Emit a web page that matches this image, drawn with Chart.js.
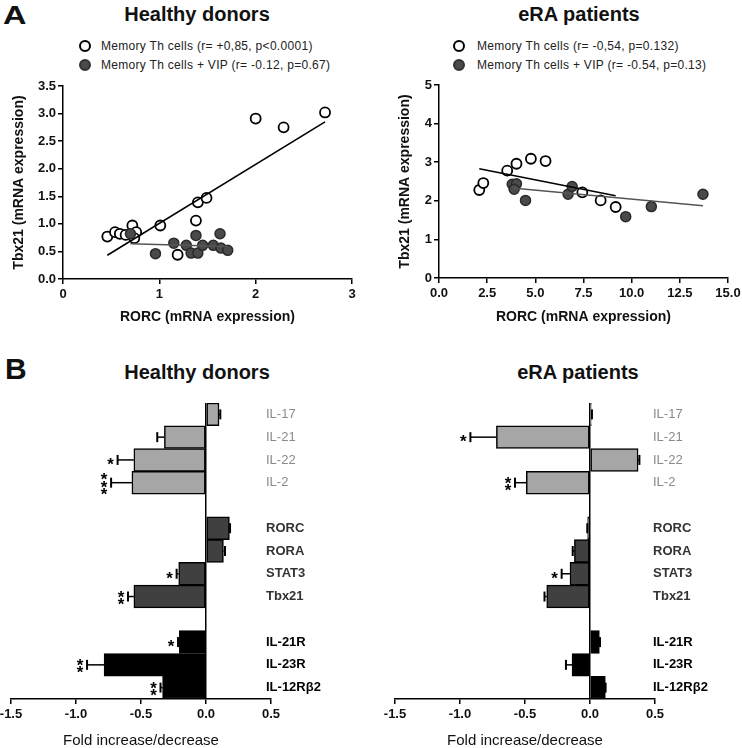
<!DOCTYPE html>
<html>
<head>
<meta charset="utf-8">
<script src="https://cdn.jsdelivr.net/npm/chart.js@4.4.1/dist/chart.umd.min.js"></script>
<style>
  html, body { margin:0; padding:0; background:#fff; }
  body { width:742px; height:748px; position:relative; overflow:hidden; font-family:"Liberation Sans", Arial, sans-serif; color:#111; }
  canvas { position:absolute; }
  .t { position:absolute; font-weight:bold; white-space:nowrap; }
  .ptitle { font-size:20px; line-height:20px; text-align:center; width:300px; }
  .leg { position:absolute; font-size:12px; line-height:14px; letter-spacing:0.3px; white-space:nowrap; color:#222; }
  .dot { position:absolute; width:8px; height:8px; border-radius:50%; }
</style>
</head>
<body>
<div class="t" style="left:3px;top:2px;font-size:26px;line-height:26px;transform:scaleX(1.25);transform-origin:left;">A</div>
<div class="t" style="left:5px;top:354px;font-size:30px;line-height:30px;">B</div>
<div class="t ptitle" style="left:47px;top:4px;">Healthy donors</div>
<div class="t ptitle" style="left:429px;top:4px;">eRA patients</div>
<div class="t ptitle" style="left:47px;top:362px;">Healthy donors</div>
<div class="t ptitle" style="left:428px;top:362px;">eRA patients</div>

<div class="dot" style="left:79px;top:40px;border:2px solid #000;background:#fff;"></div>
<div class="leg" style="left:101px;top:39px;">Memory Th cells (r= +0,85, p&lt;0.0001)</div>
<div class="dot" style="left:79px;top:59px;border:2px solid #333;background:#4a4a4a;"></div>
<div class="leg" style="left:101px;top:58px;">Memory Th cells + VIP (r= -0.12, p=0.67)</div>

<div class="dot" style="left:453px;top:40px;border:2px solid #000;background:#fff;"></div>
<div class="leg" style="left:477px;top:39px;">Memory Th cells (r= -0,54, p=0.132)</div>
<div class="dot" style="left:453px;top:59px;border:2px solid #333;background:#4a4a4a;"></div>
<div class="leg" style="left:477px;top:58px;">Memory Th cells + VIP (r= -0.54, p=0.13)</div>

<canvas id="aL" width="371" height="256" style="left:0;top:70px;"></canvas>
<canvas id="aR" width="371" height="256" style="left:371px;top:70px;"></canvas>
<canvas id="bL" width="371" height="360" style="left:0;top:390px;"></canvas>
<canvas id="bR" width="371" height="360" style="left:371px;top:390px;"></canvas>

<script>
// ---------- Panel A data (RORC vs Tbx21 mRNA expression) ----------
const hdMemRorc   = [0.46,0.54,0.59,0.65,0.72,0.76,0.74,1.01,1.40,1.49,1.38,1.19,2.00,2.29,2.72];
const hdMemTbx21  = [0.77,0.85,0.82,0.80,0.97,0.85,0.74,0.97,1.39,1.47,1.06,0.44,2.91,2.75,3.02];
const hdVipRorc   = [0.70,0.96,1.15,1.28,1.33,1.38,1.40,1.45,1.56,1.63,1.64,1.71];
const hdVipTbx21  = [0.82,0.46,0.65,0.61,0.47,0.79,0.47,0.61,0.61,0.82,0.56,0.52];
const eraMemRorc  = [2.09,2.30,3.54,4.02,4.77,5.53,7.44,8.39,9.17];
const eraMemTbx21 = [2.28,2.46,2.78,2.96,3.09,3.03,2.22,2.01,1.84];
const eraVipRorc  = [3.80,4.02,3.90,4.49,6.70,6.91,9.69,11.02,13.70];
const eraVipTbx21 = [2.43,2.44,2.30,2.01,2.17,2.37,1.59,1.85,2.17];
// regression lines: [slope, intercept]
const hdMemFit  = [1.07, -0.062];
const hdVipFit  = [-0.05, 0.675];
const eraMemFit = [-0.0985, 3.036];
const eraVipFit = [-0.0465, 2.507];

// ---------- Panel B data (fold increase/decrease) ----------
const genes     = ['IL-17','IL-21','IL-22','IL-2','RORC','RORA','STAT3','Tbx21','IL-21R','IL-23R','IL-12Rβ2'];
const geneGroup = [0,0,0,0,1,1,1,1,2,2,2];
const hdFold    = [0.10,-0.32,-0.555,-0.57,0.18,0.134,-0.21,-0.555,-0.205,-0.784,-0.334];
const hdErr     = [0.01,0.055,0.125,0.16,0.005,0.012,0.016,0.045,0.01,0.131,0.016];
const hdSig     = ['','','*','***','','','*','**','*','**','**'];
const eraFold   = [0.01,-0.72,0.37,-0.49,-0.018,-0.12,-0.154,-0.333,0.072,-0.138,0.118];
const eraErr    = [0.005,0.20,0.01,0.087,0.003,0.013,0.064,0.017,0.005,0.047,0.002];
const eraSig    = ['','*','','**','','','*','','','',''];
const groupFill  = ['#a6a6a6','#404040','#000000'];
const groupLabel = ['#8a8a8a','#333333','#000000'];
const groupWeight = ['normal','bold','bold'];

const FONT = '"Liberation Sans", Arial, sans-serif';
Chart.defaults.font.family = FONT;
Chart.defaults.color = '#111';

function pts(xs, ys) { return xs.map((x, i) => ({x: x, y: ys[i]})); }
function fitPts(xs, fit) {
  const lo = Math.min(...xs), hi = Math.max(...xs);
  return [{x: lo, y: fit[0]*lo + fit[1]}, {x: hi, y: fit[0]*hi + fit[1]}];
}

function scatter(id, memX, memY, vipX, vipY, memFit, vipFit, o) {
  new Chart(document.getElementById(id), {
    type: 'scatter',
    data: { datasets: [
      { data: fitPts(memX, memFit), showLine: true, pointRadius: 0, borderColor: '#000', borderWidth: 1.6, order: 0 },
      { data: fitPts(vipX, vipFit), showLine: true, pointRadius: 0, borderColor: '#555', borderWidth: 1.4, order: 0 },
      { data: pts(memX, memY), pointRadius: 5, pointBackgroundColor: '#fff', pointBorderColor: '#000', pointBorderWidth: 1.8, order: 2 },
      { data: pts(vipX, vipY), pointRadius: 5, pointBackgroundColor: '#4a4a4a', pointBorderColor: '#2a2a2a', pointBorderWidth: 1.5, order: 1 }
    ]},
    options: {
      responsive: false, animation: false,
      layout: { padding: { left: 0, top: o.top, right: o.right, bottom: 0 } },
      plugins: { legend: { display: false }, tooltip: { enabled: false } },
      scales: {
        x: {
          type: 'linear', min: 0, max: o.xMax,
          ticks: { stepSize: o.xStep, padding: 3, color: '#111', font: { size: 13, weight: 'bold' },
                   callback: v => o.xDec ? Number(v).toFixed(o.xDec) : String(v) },
          grid: { drawOnChartArea: false, drawTicks: true, tickLength: 5, color: '#000', lineWidth: 1.5 },
          border: { color: '#000', width: 1.5 },
          title: { display: true, text: 'RORC (mRNA expression)', color: '#111', font: { size: 14, weight: 'bold' }, padding: { top: 0, bottom: 0 } },
          afterFit: s => { s.height = o.xH; s.paddingLeft = 0; s.paddingRight = 0; }
        },
        y: {
          type: 'linear', min: 0, max: o.yMax,
          ticks: { stepSize: o.yStep, padding: 2, color: '#111', font: { size: 13, weight: 'bold' },
                   callback: v => o.yDec ? Number(v).toFixed(o.yDec) : String(v) },
          grid: { drawOnChartArea: false, drawTicks: true, tickLength: 5, color: '#000', lineWidth: 1.5 },
          border: { color: '#000', width: 1.5 },
          title: { display: true, text: 'Tbx21 (mRNA expression)', color: '#111', font: { size: 14, weight: 'bold' }, padding: { top: o.yTitlePad, bottom: 0 } },
          afterFit: s => { s.width = o.yW; s.paddingTop = 0; s.paddingBottom = 0; }
        }
      }
    }
  });
}

scatter('aL', hdMemRorc, hdMemTbx21, hdVipRorc, hdVipTbx21, hdMemFit, hdVipFit,
  { top: 16, right: 19, xH: 47, yW: 63, xMax: 3, xStep: 1, xDec: 0, yMax: 3.5, yStep: 0.5, yDec: 1, yTitlePad: 10.6 });
scatter('aR', eraMemRorc, eraMemTbx21, eraVipRorc, eraVipTbx21, eraMemFit, eraVipFit,
  { top: 15, right: 14, xH: 48, yW: 68, xMax: 15, xStep: 2.5, xDec: 1, yMax: 5, yStep: 1, yDec: 0, yTitlePad: 25.6 });

// build category list with blank spacer rows between gene groups
function withSpacers(arr, blank) {
  const out = [];
  arr.forEach((v, i) => { if (i > 0 && geneGroup[i] !== geneGroup[i-1]) out.push(blank); out.push(v); });
  return out;
}
const rowLabels = withSpacers(genes, '');
const rowGroup = withSpacers(geneGroup, null);

const errPlugin = {
  id: 'errbars',
  afterDatasetsDraw(chart) {
    const ds = chart.data.datasets[0];
    const meta = chart.getDatasetMeta(0);
    const xs = chart.scales.x;
    const ctx = chart.ctx;
    ctx.save();
    ctx.strokeStyle = '#000';
    meta.data.forEach((bar, i) => {
      const v = ds.data[i];
      if (v === null || v === undefined) return;
      const e = ds.errs[i];
      const dir = v < 0 ? -1 : 1;
      const x1 = xs.getPixelForValue(v), x2 = xs.getPixelForValue(v + dir * e);
      const y = bar.y;
      ctx.lineWidth = 1.5;
      ctx.beginPath(); ctx.moveTo(x1, y); ctx.lineTo(x2, y); ctx.stroke();
      ctx.lineWidth = 2;
      ctx.beginPath(); ctx.moveTo(x2, y - 5); ctx.lineTo(x2, y + 5); ctx.stroke();
      const s = ds.sigs[i];
      if (s) {
        const fs = 17;
        ctx.font = 'bold ' + fs + 'px ' + FONT;
        ctx.fillStyle = '#000';
        ctx.textAlign = 'center';
        ctx.textBaseline = 'alphabetic';
        const n = s.length, step = 7.5;
        const sx = x2 + dir * 7;
        for (let k = 0; k < n; k++) {
          const cy = y + (k - (n - 1) / 2) * step;
          ctx.fillText('*', sx, cy + 0.58 * fs);
        }
      }
    });
    ctx.restore();
  }
};

function bars(id, fold, err, sig, o) {
  const data = withSpacers(fold, null);
  new Chart(document.getElementById(id), {
    type: 'bar',
    data: { labels: rowLabels, datasets: [{
      data: data,
      errs: withSpacers(err, null),
      sigs: withSpacers(sig, ''),
      backgroundColor: rowGroup.map(g => g === null ? 'transparent' : groupFill[g]),
      borderColor: '#000', borderWidth: 1.5, borderSkipped: false,
      barPercentage: 1, categoryPercentage: 1
    }]},
    plugins: [errPlugin],
    options: {
      indexAxis: 'y', responsive: false, animation: false,
      layout: { padding: { left: o.left, right: o.right, top: 13, bottom: 0 } },
      plugins: { legend: { display: false }, tooltip: { enabled: false } },
      scales: {
        x: {
          type: 'linear', min: -1.5, max: 0.5,
          ticks: { stepSize: 0.5, padding: 3, color: '#111', font: { size: 13, weight: 'bold' }, callback: v => Number(v).toFixed(1) },
          grid: { drawOnChartArea: true, drawTicks: true, tickLength: 5,
                  color: c => (c.tick && Math.abs(c.tick.value) < 1e-9) ? '#000' : 'rgba(0,0,0,0)',
                  tickColor: '#000', lineWidth: 1.5 },
          border: { color: '#000', width: 1.5 },
          title: { display: true, text: 'Fold increase/decrease', color: '#111', font: { size: 15, weight: 'normal' }, padding: { top: 0, bottom: 0 } },
          afterFit: s => { s.height = 51; s.paddingLeft = 0; s.paddingRight = 0; }
        },
        y: {
          type: 'category', position: 'left',
          grid: { display: false, drawTicks: false },
          border: { display: false },
          ticks: { autoSkip: false, mirror: true, crossAlign: 'near', padding: o.labelPad,
                   color: c => rowGroup[c.index] === null ? '#000' : groupLabel[rowGroup[c.index]],
                   font: c => ({ size: 13, weight: rowGroup[c.index] === null ? 'bold' : groupWeight[rowGroup[c.index]] }) },
          afterFit: s => { s.width = 0; s.paddingTop = 0; s.paddingBottom = 0; }
        }
      }
    }
  });
}

bars('bL', hdFold, hdErr, hdSig, { left: 11, right: 100, labelPad: 255 });
bars('bR', eraFold, eraErr, eraSig, { left: 24, right: 87, labelPad: 258 });
</script>
</body>
</html>
